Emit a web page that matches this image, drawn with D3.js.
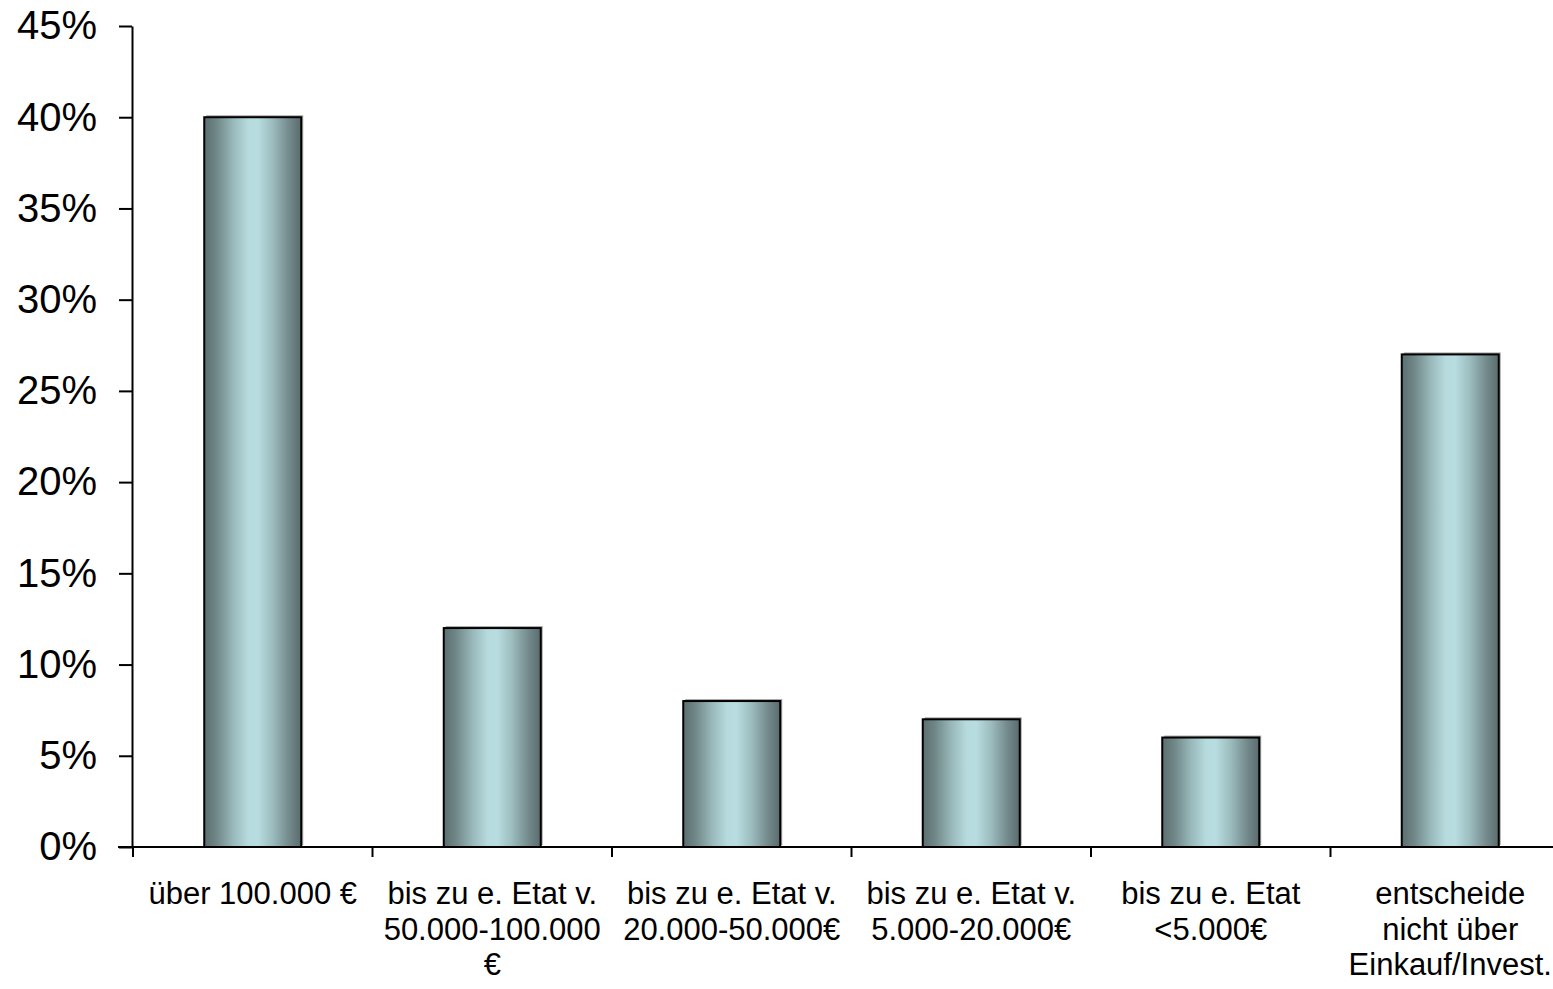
<!DOCTYPE html>
<html>
<head>
<meta charset="utf-8">
<script src="https://cdn.jsdelivr.net/npm/d3@7"></script>
<style>
  html, body { margin: 0; padding: 0; background: #fff; overflow: hidden; }
  svg { display: block; font-family: "Liberation Sans", Arial, sans-serif; }
</style>
</head>
<body>
<svg id="chart" width="1553" height="989"></svg>
<script>
const categories = [
  "über 100.000 €",
  "bis zu e. Etat v.\n50.000-100.000\n€",
  "bis zu e. Etat v.\n20.000-50.000€",
  "bis zu e. Etat v.\n5.000-20.000€",
  "bis zu e. Etat\n<5.000€",
  "entscheide\nnicht über\nEinkauf/Invest."
];
const values = [0.40, 0.12, 0.08, 0.07, 0.06, 0.27];
const yTicks = [0, 0.05, 0.10, 0.15, 0.20, 0.25, 0.30, 0.35, 0.40, 0.45];

const svg = d3.select("#chart");
const plotLeft = 133, plotTop = 26, plotBottom = 847, step = 239.5;

const y = d3.scaleLinear().domain([0, 0.45]).range([plotBottom, plotTop]);
const x = d3.scaleBand().domain(categories).range([plotLeft, plotLeft + step * categories.length]).padding(0);
const barW = x.bandwidth() * 0.405;

// gradient
const defs = svg.append("defs");
const grad = defs.append("linearGradient").attr("id", "barGrad")
  .attr("x1", "0%").attr("x2", "100%").attr("y1", "0%").attr("y2", "0%");
[[0, "#5b6f71"], [0.12, "#6f8586"], [0.3, "#99b9bb"], [0.45, "#b6dadd"], [0.55, "#b8dde0"],
 [0.7, "#9dbdbf"], [0.88, "#72888a"], [1, "#5a6c6d"]]
  .forEach(([o, c]) => grad.append("stop").attr("offset", o).attr("stop-color", c));

// bars
const bars = svg.append("g");
categories.forEach((c, i) => {
  const cx = x(c) + x.bandwidth() / 2;
  const top = y(values[i]);
  bars.append("rect")
    .attr("x", cx - barW / 2 + 2).attr("y", top - 2)
    .attr("width", barW).attr("height", plotBottom - top)
    .attr("fill", "#a8a8a8");
  bars.append("rect")
    .attr("x", cx - barW / 2).attr("y", top)
    .attr("width", barW).attr("height", plotBottom - top)
    .attr("fill", "url(#barGrad)")
    .attr("stroke", "#000").attr("stroke-width", 2);
});

// y axis
const yAxis = d3.axisLeft(y).tickValues(yTicks).tickFormat(d3.format(".0%"))
  .tickSizeInner(13).tickSizeOuter(0).tickPadding(22);
const gy = svg.append("g").attr("transform", `translate(${plotLeft - 1},0)`).call(yAxis);
gy.select(".domain").attr("stroke", "#000").attr("stroke-width", 2);
gy.selectAll(".tick line").attr("stroke", "#000").attr("stroke-width", 2);
gy.selectAll(".tick text").attr("font-size", 40).attr("fill", "#000")
  .attr("font-family", "'Liberation Sans', Arial, sans-serif");

// x axis line and ticks at band boundaries
const gx = svg.append("g");
gx.append("line").attr("x1", 118).attr("x2", 1553).attr("y1", plotBottom).attr("y2", plotBottom)
  .attr("stroke", "#000").attr("stroke-width", 2);
categories.forEach(c => {
  gx.append("line").attr("x1", x(c)).attr("x2", x(c))
    .attr("y1", plotBottom).attr("y2", plotBottom + 10)
    .attr("stroke", "#000").attr("stroke-width", 2);
});

// category labels
categories.forEach(c => {
  const cx = x(c) + x.bandwidth() / 2;
  const t = svg.append("text").attr("text-anchor", "middle")
    .attr("font-size", 31).attr("fill", "#000");
  c.split("\n").forEach((line, j) => {
    t.append("tspan").attr("x", cx).attr("y", 904 + j * 35.5).text(line);
  });
});
</script>
</body>
</html>
